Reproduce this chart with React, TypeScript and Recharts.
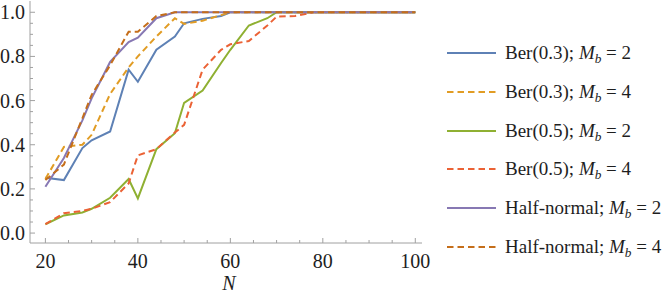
import React from "react";
import { Legend, Line, LineChart, XAxis, YAxis } from "recharts";

// sample sizes on the x axis
const nValues = [20, 24, 28, 30, 34, 38, 40, 44, 48, 50, 54, 58, 60, 64, 68, 70, 74, 78, 80, 84, 88, 90, 94, 98, 100];

// success rate per series, one value per entry of nValues
const ber03Mb2 = [0.25, 0.24, 0.385, 0.42, 0.46, 0.74, 0.685, 0.83, 0.89, 0.95, 0.97, 0.983, 1, 1, 1, 1, 1, 1, 1, 1, 1, 1, 1, 1, 1];
const ber03Mb4 = [0.245, 0.39, 0.4, 0.445, 0.63, 0.75, 0.8, 0.89, 0.973, 0.947, 0.962, 0.987, 1, 1, 1, 1, 1, 1, 1, 1, 1, 1, 1, 1, 1];
const ber05Mb2 = [0.04, 0.08, 0.093, 0.11, 0.16, 0.245, 0.157, 0.38, 0.452, 0.59, 0.645, 0.77, 0.83, 0.94, 0.973, 1, 1, 1, 1, 1, 1, 1, 1, 1, 1];
const ber05Mb4 = [0.04, 0.09, 0.1, 0.11, 0.14, 0.225, 0.352, 0.38, 0.455, 0.49, 0.74, 0.83, 0.855, 0.87, 0.94, 0.98, 0.983, 1, 1, 1, 1, 1, 1, 1, 1];
const halfNormMb2 = [0.21, 0.34, 0.51, 0.61, 0.775, 0.865, 0.885, 0.973, 1, 1, 1, 1, 1, 1, 1, 1, 1, 1, 1, 1, 1, 1, 1, 1, 1];
const halfNormMb4 = [0.24, 0.31, 0.52, 0.626, 0.76, 0.912, 0.912, 0.983, 1, 1, 1, 1, 1, 1, 1, 1, 1, 1, 1, 1, 1, 1, 1, 1, 1];

// axis ticks
const xMajorTicks = [20, 40, 60, 80, 100];
const xAllTicks = [20, 25, 30, 35, 40, 45, 50, 55, 60, 65, 70, 75, 80, 85, 90, 95, 100];
const yMajorTicks = [0, 0.2, 0.4, 0.6, 0.8, 1];
const yAllTicks = [0, 0.05, 0.1, 0.15, 0.2, 0.25, 0.3, 0.35, 0.4, 0.45, 0.5, 0.55, 0.6, 0.65, 0.7, 0.75, 0.8, 0.85, 0.9, 0.95, 1];

const SERIES = [
  { key: "ber03Mb2", name: "Ber(0.3)", mb: 2, color: "#5E81B5", dash: undefined, values: ber03Mb2 },
  { key: "ber03Mb4", name: "Ber(0.3)", mb: 4, color: "#E19C24", dash: "6.5 4", values: ber03Mb4 },
  { key: "ber05Mb2", name: "Ber(0.5)", mb: 2, color: "#8FB032", dash: undefined, values: ber05Mb2 },
  { key: "ber05Mb4", name: "Ber(0.5)", mb: 4, color: "#EB6235", dash: "6.5 4", values: ber05Mb4 },
  { key: "halfNormMb2", name: "Half-normal", mb: 2, color: "#8778B3", dash: undefined, values: halfNormMb2 },
  { key: "halfNormMb4", name: "Half-normal", mb: 4, color: "#C56E1A", dash: "6.5 4", values: halfNormMb4 },
];

const data = nValues.map((n, i) => {
  const row: Record<string, number> = { n };
  SERIES.forEach((s) => (row[s.key] = s.values[i]));
  return row;
});

const FONT = "'Liberation Serif', 'Times New Roman', serif";
const FRAME = "#a0a0a0";
const TEXT = "#1e1e1e";
const MAJOR = 5;
const MINOR = 3;
const X_MARGIN = 11;
const Y_MARGIN = 5;

const isMajor = (v: number, majors: number[]) => majors.some((m) => Math.abs(m - v) < 1e-6);

function BottomTick(props: any) {
  const { x, y, payload } = props;
  const major = isMajor(payload.value, xMajorTicks);
  const base = y - X_MARGIN;
  return (
    <g>
      <line x1={x} x2={x} y1={base} y2={base - (major ? MAJOR : MINOR)} stroke={FRAME} />
      {major && (
        <text x={x} y={y} dy="0.71em" textAnchor="middle" fontSize={20} fontFamily={FONT} fill={TEXT}>
          {payload.value}
        </text>
      )}
    </g>
  );
}

function TopTick(props: any) {
  const { x, y, payload } = props;
  const major = isMajor(payload.value, xMajorTicks);
  const base = y + X_MARGIN;
  return <line x1={x} x2={x} y1={base} y2={base + (major ? MAJOR : MINOR)} stroke={FRAME} />;
}

function LeftTick(props: any) {
  const { x, y, payload } = props;
  const major = isMajor(payload.value, yMajorTicks);
  const base = x + Y_MARGIN;
  return (
    <g>
      <line x1={base} x2={base + (major ? MAJOR : MINOR)} y1={y} y2={y} stroke={FRAME} />
      {major && (
        <text x={x} y={y} dy="0.35em" textAnchor="end" fontSize={20} fontFamily={FONT} fill={TEXT}>
          {payload.value.toFixed(1)}
        </text>
      )}
    </g>
  );
}

function RightTick(props: any) {
  const { x, y, payload } = props;
  const major = isMajor(payload.value, yMajorTicks);
  const base = x - Y_MARGIN;
  return <line x1={base} x2={base - (major ? MAJOR : MINOR)} y1={y} y2={y} stroke={FRAME} />;
}

function LegendBox(props: any) {
  const items = props.payload || [];
  return (
    <div style={{ display: "flex", flexDirection: "column" }}>
      {items.map((item: any) => {
        const s = SERIES.find((q) => q.key === item.dataKey)!;
        return (
          <div key={s.key} style={{ height: 38.7, display: "flex", alignItems: "center" }}>
            <svg width={49} height={4} style={{ display: "block" }}>
              <line x1={0} x2={49} y1={2} y2={2} stroke={item.color} strokeWidth={2} strokeDasharray={s.dash} />
            </svg>
            <span style={{ marginLeft: 9, fontSize: 19, fontFamily: FONT, color: TEXT, whiteSpace: "nowrap" }}>
              {s.name}; <i>M</i>
              <span style={{ fontStyle: "italic", fontSize: "0.7em", position: "relative", top: "0.3em" }}>b</span> = {s.mb}
            </span>
          </div>
        );
      })}
    </div>
  );
}

export default function App() {
  return (
    <div style={{ position: "absolute", left: 0, top: 0 }}>
      <LineChart width={664} height={295} data={data} margin={{ top: 1, right: 242, bottom: 0, left: 0 }}>
        <XAxis
          xAxisId="bottom"
          dataKey="n"
          type="number"
          domain={[16.67, 101.45]}
          allowDataOverflow
          ticks={xAllTicks}
          interval={0}
          height={52}
          tickSize={0}
          tickMargin={X_MARGIN}
          tickLine={false}
          tick={<BottomTick />}
          axisLine={{ stroke: FRAME }}
          label={{ value: "N", position: "insideBottom", offset: 5, dx: 3, fontSize: 20, fontStyle: "italic", fontFamily: FONT, fill: TEXT }}
        />
        <XAxis
          xAxisId="top"
          orientation="top"
          dataKey="n"
          type="number"
          domain={[16.67, 101.45]}
          allowDataOverflow
          ticks={xAllTicks}
          interval={0}
          height={0}
          tickSize={0}
          tickMargin={X_MARGIN}
          tickLine={false}
          tick={<TopTick />}
          axisLine={{ stroke: FRAME }}
        />
        <YAxis
          yAxisId="left"
          type="number"
          domain={[-0.045, 1.051]}
          allowDataOverflow
          ticks={yAllTicks}
          interval={0}
          width={30}
          tickSize={0}
          tickMargin={Y_MARGIN}
          tickLine={false}
          tick={<LeftTick />}
          axisLine={{ stroke: FRAME }}
        />
        <YAxis
          yAxisId="right"
          orientation="right"
          type="number"
          domain={[-0.045, 1.051]}
          allowDataOverflow
          ticks={yAllTicks}
          interval={0}
          width={0}
          tickSize={0}
          tickMargin={Y_MARGIN}
          tickLine={false}
          tick={<RightTick />}
          axisLine={{ stroke: FRAME }}
        />
        <Legend
          layout="vertical"
          align="center"
          verticalAlign="middle"
          content={<LegendBox />}
          wrapperStyle={{ left: 447, top: 34, width: "auto", height: "auto" }}
        />
        {SERIES.map((s) => (
          <Line
            key={s.key}
            xAxisId="bottom"
            yAxisId="left"
            dataKey={s.key}
            name={s.name}
            type="linear"
            stroke={s.color}
            strokeWidth={2}
            strokeDasharray={s.dash}
            dot={false}
            activeDot={false}
            isAnimationActive={false}
          />
        ))}
      </LineChart>
    </div>
  );
}
